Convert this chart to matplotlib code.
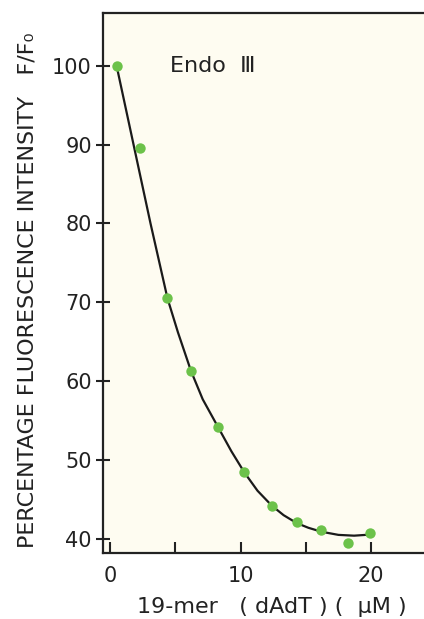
import matplotlib.pyplot as plt

# measured points (green dots)
conc = [0.5, 2.3, 4.4, 6.2, 8.3, 10.3, 12.4, 14.3, 16.2, 18.2, 19.9]
fluor = [100.0, 89.6, 70.5, 61.3, 54.2, 48.5, 44.2, 42.1, 41.1, 39.5, 40.8]

# fitted curve
curve_x = [0.5, 1.8, 3.1, 4.4, 5.2, 6.2, 7.1, 8.3, 9.3, 10.3, 11.3, 12.4,
           13.3, 14.3, 15.2, 16.2, 17.5, 18.7, 19.6]
curve_y = [100.0, 90.0, 80.0, 70.5, 66.2, 61.3, 57.7, 54.1, 51.1, 48.4, 46.1, 44.2,
           43.0, 42.0, 41.4, 40.9, 40.5, 40.4, 40.5]

x_ticks = [0, 5, 10, 15, 20]
x_labels = ['0', '', '10', '', '20']
y_ticks = [40, 50, 60, 70, 80, 90, 100]

fig = plt.figure(figsize=(4.24, 6.19), dpi=100)
ax = fig.add_axes([0.243, 0.1066, 0.757, 0.8724])
ax.set_facecolor('#fefcf1')

ax.plot(curve_x, curve_y, color='#1a1a1a', lw=1.6, zorder=2)
ax.plot(conc, fluor, 'o', color='#6cc24a', ms=7.5, mec='none', zorder=3)

ax.set_xlim(-0.54, 24.06)
ax.set_ylim(38.2, 106.7)
ax.set_xticks(x_ticks)
ax.set_xticklabels(x_labels)
ax.set_yticks(y_ticks)

ax.tick_params(axis='x', direction='in', length=8, width=1.5, labelsize=15,
               pad=9, colors='#222222')
ax.tick_params(axis='y', direction='inout', length=10, width=1.5, labelsize=15,
               pad=3, colors='#222222')
for side in ['left', 'bottom', 'top']:
    ax.spines[side].set_linewidth(1.6)
    ax.spines[side].set_color('#222222')
ax.spines['right'].set_visible(False)

ax.text(4.6, 100, 'Endo  \u2162', fontsize=16, va='center', color='#222222')

fig.text(272 / 424, 1 - 607 / 619, '19-mer   ( dAdT ) (  \u03bcM )', ha='center',
         va='center', fontsize=16, color='#222222')
fig.text(0.065, 1 - 290 / 619, 'PERCENTAGE FLUORESCENCE INTENSITY   F/F\u2080',
         rotation=90, ha='center', va='center', fontsize=16, color='#222222')

fig.savefig('out.png', dpi=100)
